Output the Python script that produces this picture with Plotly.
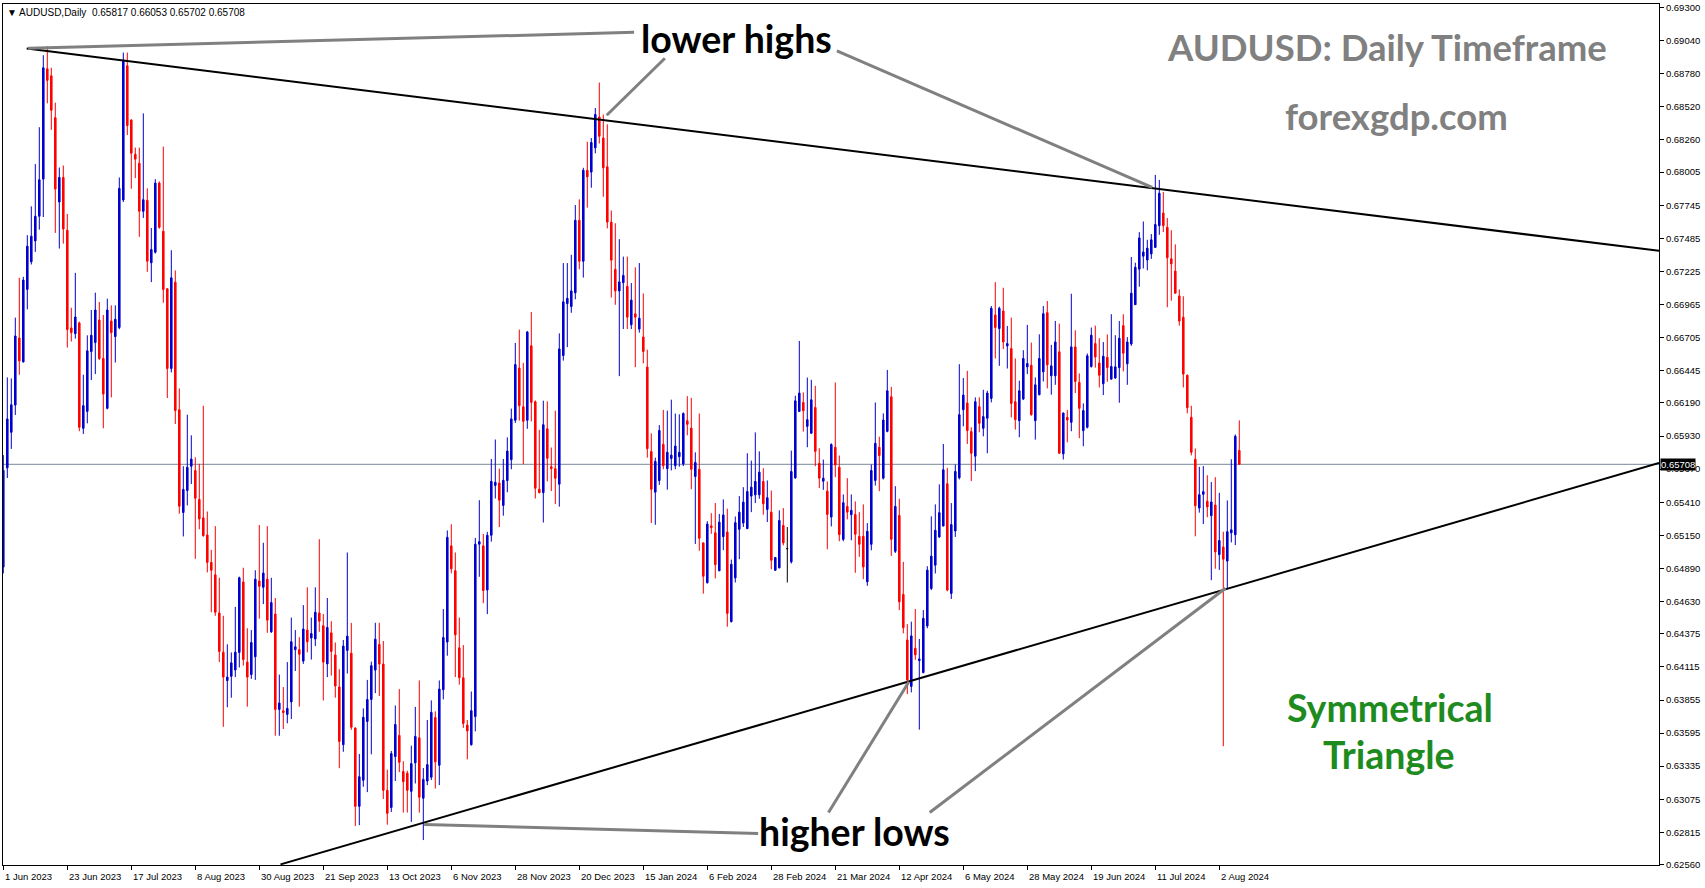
import plotly.graph_objects as go

# ---------------- data ----------------
opens = [
    0.6490, 0.6568, 0.65960, 0.66174, 0.66701, 0.66513, 0.67083, 0.67300, 0.67464, 0.67658,
    0.67950, 0.68817, 0.68762, 0.68433, 0.67770, 0.67963, 0.67548, 0.66780, 0.66735, 0.66819,
    0.65991, 0.66124, 0.66594, 0.66665, 0.66843, 0.66540, 0.66148, 0.66835, 0.66712, 0.66783,
    0.67786, 0.68841, 0.68415, 0.68146, 0.68075, 0.67697, 0.67783, 0.67292, 0.67375, 0.67919,
    0.67540, 0.67088, 0.66461, 0.67140, 0.66137, 0.65329, 0.65502, 0.65693, 0.65659, 0.65432,
    0.65287, 0.65152, 0.64937, 0.64839, 0.64539, 0.64231, 0.64008, 0.64041, 0.64091, 0.64229,
    0.64783, 0.64153, 0.64055, 0.64195, 0.64791, 0.64741, 0.64805, 0.64391, 0.64531, 0.63781,
    0.63770, 0.63742, 0.63840, 0.64251, 0.64251, 0.64161, 0.64405, 0.64343, 0.64335, 0.64539,
    0.64439, 0.64139, 0.64383, 0.64209, 0.63957, 0.63504, 0.64245, 0.64223, 0.63635, 0.63019,
    0.63224, 0.63686, 0.63859, 0.64090, 0.64292, 0.64138, 0.63145, 0.63010, 0.63410, 0.63577,
    0.63293, 0.63280, 0.63137, 0.63361, 0.63558, 0.63083, 0.63218, 0.63248, 0.63717, 0.63342,
    0.63936, 0.64311, 0.65067, 0.64872, 0.64265, 0.64030, 0.63658, 0.63504, 0.63725, 0.65080,
    0.65067, 0.64720, 0.65150, 0.65542, 0.65561, 0.65385, 0.65580, 0.65744, 0.66054, 0.66465,
    0.66160, 0.66054, 0.66640, 0.66200, 0.65512, 0.65485, 0.65987, 0.65689, 0.65674, 0.65552,
    0.66563, 0.66971, 0.66948, 0.67056, 0.67626, 0.67304, 0.68019, 0.68005, 0.68196, 0.68438,
    0.68273, 0.68047, 0.67612, 0.67241, 0.67071, 0.67136, 0.67107, 0.66805, 0.66891, 0.66771,
    0.66709, 0.66472, 0.65808, 0.65489, 0.65580, 0.65865, 0.65674, 0.65754, 0.65697, 0.65768,
    0.65711, 0.66050, 0.65993, 0.65612, 0.65669, 0.65090, 0.64777, 0.65224, 0.65170, 0.64871,
    0.65139, 0.65176, 0.64471, 0.64815, 0.65197, 0.65246, 0.65202, 0.65458, 0.65468, 0.65468,
    0.65573, 0.65353, 0.65332, 0.64875, 0.64894, 0.65228, 0.65045, 0.64941, 0.65601, 0.66124,
    0.66194, 0.66006, 0.65952, 0.66155, 0.65716, 0.65575, 0.65497, 0.65293, 0.65842, 0.65685,
    0.65118, 0.65377, 0.65312, 0.65314, 0.65142, 0.65142, 0.64784, 0.65079, 0.65581, 0.65842,
    0.65599, 0.65967, 0.66239, 0.65024, 0.65306, 0.64685, 0.64327, 0.63962, 0.64262, 0.64165,
    0.64071, 0.64437, 0.64732, 0.64915, 0.65137, 0.65223, 0.65555, 0.64693, 0.65184, 0.65602,
    0.66137, 0.66190, 0.65965, 0.65772, 0.66161, 0.65991, 0.66070, 0.66226, 0.66882, 0.66775,
    0.66913, 0.66639, 0.66618, 0.66200, 0.66051, 0.66221, 0.66474, 0.66487, 0.66051, 0.66255,
    0.66435, 0.66900, 0.66404, 0.66404, 0.66592, 0.65790, 0.66077, 0.66038, 0.66631, 0.66352,
    0.65973, 0.65999, 0.66477, 0.66657, 0.66504, 0.66342, 0.66549, 0.66378, 0.66387, 0.66468,
    0.66798, 0.66498, 0.66654, 0.66963, 0.67242, 0.67344, 0.67314, 0.67362, 0.67413, 0.67584,
    0.67683, 0.67572, 0.67323, 0.67227, 0.67032, 0.66864, 0.66408, 0.66078, 0.65748, 0.65364,
    0.65472, 0.65418, 0.65304, 0.65388, 0.64998, 0.65058, 0.64947, 0.65169, 0.65154, 0.65817,
]
highs = [
    0.6578, 0.66391, 0.66383, 0.66861, 0.67174, 0.67182, 0.67509, 0.67736, 0.68068, 0.68358,
    0.68924, 0.68995, 0.68825, 0.68551, 0.68041, 0.68057, 0.67676, 0.66939, 0.67213, 0.66830,
    0.66412, 0.66722, 0.66921, 0.67057, 0.66984, 0.66882, 0.67010, 0.66958, 0.66958, 0.67963,
    0.68945, 0.68945, 0.68420, 0.68198, 0.68198, 0.68467, 0.67877, 0.67566, 0.67950, 0.67932,
    0.68206, 0.67091, 0.67391, 0.67232, 0.66304, 0.65693, 0.66098, 0.65936, 0.65763, 0.65712,
    0.66168, 0.65337, 0.65035, 0.65222, 0.64816, 0.64517, 0.64293, 0.64229, 0.64587, 0.64825,
    0.64895, 0.64419, 0.64405, 0.64875, 0.65231, 0.65091, 0.65222, 0.64816, 0.64657, 0.64055,
    0.63957, 0.64153, 0.64503, 0.64405, 0.64349, 0.64601, 0.64741, 0.64503, 0.64741, 0.65119,
    0.64531, 0.64657, 0.64475, 0.64307, 0.64097, 0.64327, 0.65015, 0.64461, 0.63640, 0.63431,
    0.63789, 0.64013, 0.64157, 0.64462, 0.64462, 0.64319, 0.63307, 0.63455, 0.63812, 0.63941,
    0.63374, 0.63299, 0.63496, 0.63801, 0.64009, 0.63320, 0.63698, 0.63852, 0.63766, 0.64009,
    0.64570, 0.65188, 0.65237, 0.65015, 0.64503, 0.64287, 0.63698, 0.63922, 0.65129, 0.65426,
    0.65160, 0.65177, 0.65750, 0.65903, 0.65674, 0.65750, 0.65920, 0.66146, 0.66662, 0.66767,
    0.66505, 0.66756, 0.66905, 0.66210, 0.65979, 0.66208, 0.66203, 0.65840, 0.66130, 0.66737,
    0.67290, 0.67290, 0.67355, 0.67746, 0.67791, 0.68039, 0.68244, 0.68273, 0.68509, 0.68709,
    0.68458, 0.68381, 0.67703, 0.67603, 0.67478, 0.67341, 0.67341, 0.67133, 0.67256, 0.67290,
    0.67051, 0.66609, 0.65951, 0.65760, 0.66016, 0.66136, 0.66130, 0.66216, 0.66107, 0.66101,
    0.66116, 0.66244, 0.66230, 0.65802, 0.66107, 0.65095, 0.65261, 0.65324, 0.65404, 0.65318,
    0.65432, 0.65359, 0.64959, 0.65298, 0.65458, 0.65528, 0.65795, 0.65737, 0.65959, 0.65810,
    0.65677, 0.65581, 0.65502, 0.64980, 0.65346, 0.65364, 0.65215, 0.65816, 0.66247, 0.66678,
    0.66273, 0.66390, 0.66372, 0.66325, 0.65834, 0.65745, 0.65573, 0.65873, 0.66351, 0.65777,
    0.65471, 0.65599, 0.65471, 0.65416, 0.65332, 0.65393, 0.65246, 0.65706, 0.66194, 0.65925,
    0.66108, 0.66450, 0.66317, 0.65536, 0.65437, 0.64941, 0.64452, 0.64471, 0.64570, 0.64335,
    0.64562, 0.64907, 0.65299, 0.65393, 0.65550, 0.65868, 0.65680, 0.65403, 0.65706, 0.66495,
    0.66386, 0.66443, 0.65999, 0.66234, 0.66234, 0.66294, 0.66286, 0.66952, 0.67140, 0.66947,
    0.67096, 0.66796, 0.66861, 0.66540, 0.66365, 0.66605, 0.66804, 0.66665, 0.66391, 0.66730,
    0.66952, 0.66992, 0.66647, 0.66835, 0.66814, 0.66115, 0.66135, 0.67049, 0.66762, 0.66422,
    0.66187, 0.66579, 0.66783, 0.66798, 0.66699, 0.66669, 0.66729, 0.66888, 0.66723, 0.66834,
    0.66888, 0.66708, 0.67338, 0.67293, 0.67533, 0.67617, 0.67473, 0.67518, 0.67983, 0.67944,
    0.67848, 0.67644, 0.67548, 0.67437, 0.67083, 0.67029, 0.66414, 0.66168, 0.65832, 0.65688,
    0.65694, 0.65622, 0.65568, 0.65607, 0.65484, 0.65178, 0.65424, 0.65748, 0.65943, 0.66053,
]
lows = [
    0.6485, 0.6560, 0.65829, 0.66096, 0.66412, 0.66508, 0.66926, 0.67279, 0.67378, 0.67553,
    0.67652, 0.68546, 0.68337, 0.67527, 0.67404, 0.67443, 0.66626, 0.66673, 0.66696, 0.65968,
    0.65947, 0.66030, 0.66370, 0.66417, 0.66527, 0.65991, 0.66140, 0.66234, 0.66508, 0.66770,
    0.67770, 0.68297, 0.67874, 0.67958, 0.67496, 0.67645, 0.67221, 0.67140, 0.67365, 0.67560,
    0.66978, 0.66229, 0.66430, 0.66025, 0.65320, 0.65141, 0.65385, 0.65553, 0.64965, 0.65197,
    0.65139, 0.64858, 0.64545, 0.64517, 0.64153, 0.63644, 0.63798, 0.63873, 0.64035, 0.64111,
    0.64125, 0.63803, 0.64021, 0.64013, 0.64495, 0.64609, 0.64383, 0.64383, 0.63574, 0.63574,
    0.63627, 0.63672, 0.63705, 0.64083, 0.63803, 0.64139, 0.64229, 0.64173, 0.64279, 0.64391,
    0.63851, 0.64035, 0.64047, 0.63873, 0.63319, 0.63448, 0.64063, 0.63621, 0.62865, 0.62871,
    0.63173, 0.63131, 0.63428, 0.63909, 0.63887, 0.63077, 0.62875, 0.62975, 0.63218, 0.63288,
    0.62970, 0.62970, 0.62897, 0.63199, 0.62970, 0.62754, 0.63186, 0.63226, 0.63159, 0.63186,
    0.63860, 0.64203, 0.64851, 0.64036, 0.63976, 0.63636, 0.63388, 0.63496, 0.63609, 0.64824,
    0.64616, 0.64530, 0.65100, 0.65439, 0.65215, 0.65304, 0.65488, 0.65669, 0.66033, 0.66052,
    0.65709, 0.65987, 0.66046, 0.65439, 0.65480, 0.65250, 0.65574, 0.65498, 0.65395, 0.65375,
    0.66523, 0.66629, 0.66899, 0.67005, 0.67241, 0.67176, 0.67726, 0.67882, 0.68153, 0.68230,
    0.67811, 0.67563, 0.67019, 0.66962, 0.66401, 0.66771, 0.66771, 0.66771, 0.66472, 0.66743,
    0.66501, 0.65760, 0.65247, 0.65233, 0.65546, 0.65669, 0.65509, 0.65660, 0.65669, 0.65689,
    0.65694, 0.65936, 0.65512, 0.65082, 0.65028, 0.64691, 0.64771, 0.65162, 0.64811, 0.64868,
    0.65033, 0.64431, 0.64465, 0.64779, 0.64962, 0.65215, 0.65200, 0.65332, 0.65403, 0.65437,
    0.65312, 0.65254, 0.64883, 0.64870, 0.64890, 0.65071, 0.64779, 0.64928, 0.65595, 0.66120,
    0.65965, 0.65842, 0.65950, 0.65693, 0.65521, 0.65507, 0.65040, 0.65220, 0.65607, 0.65103,
    0.65103, 0.65275, 0.65111, 0.64855, 0.64980, 0.64805, 0.64753, 0.65032, 0.65541, 0.65497,
    0.65589, 0.65960, 0.64988, 0.65011, 0.64562, 0.64379, 0.63901, 0.63915, 0.64171, 0.63622,
    0.64065, 0.64419, 0.64719, 0.64850, 0.65130, 0.65220, 0.64710, 0.64649, 0.65137, 0.65589,
    0.66007, 0.65868, 0.65576, 0.65654, 0.65960, 0.65928, 0.65795, 0.66195, 0.66540, 0.66482,
    0.66613, 0.66461, 0.66077, 0.65981, 0.65921, 0.66213, 0.66417, 0.66090, 0.65902, 0.66250,
    0.66359, 0.66305, 0.66255, 0.66333, 0.65790, 0.65746, 0.65881, 0.65968, 0.66268, 0.65913,
    0.65850, 0.65990, 0.66468, 0.66468, 0.66312, 0.66252, 0.66357, 0.66372, 0.66380, 0.66192,
    0.66438, 0.66333, 0.66639, 0.66960, 0.67104, 0.67248, 0.67233, 0.67323, 0.67410, 0.67512,
    0.67533, 0.66943, 0.66994, 0.67050, 0.66798, 0.66312, 0.66108, 0.65778, 0.65142, 0.65328,
    0.65238, 0.65292, 0.64797, 0.64887, 0.64878, 0.63492, 0.64734, 0.65094, 0.65073, 0.65702,
]
closes = [
    0.6566, 0.66064, 0.66176, 0.66717, 0.66521, 0.67156, 0.67422, 0.67501, 0.67658, 0.67945,
    0.68825, 0.68726, 0.68491, 0.67872, 0.67963, 0.67558, 0.66767, 0.66743, 0.66866, 0.65999,
    0.66169, 0.66600, 0.66722, 0.66921, 0.66540, 0.66260, 0.66921, 0.66743, 0.66848, 0.67877,
    0.68885, 0.68371, 0.68154, 0.68107, 0.67697, 0.67788, 0.67305, 0.67396, 0.67919, 0.67571,
    0.67083, 0.66461, 0.67174, 0.66130, 0.65379, 0.65511, 0.65684, 0.65749, 0.65441, 0.65278,
    0.65147, 0.64937, 0.64875, 0.64545, 0.64237, 0.64035, 0.64035, 0.64147, 0.64231, 0.64816,
    0.64173, 0.64035, 0.64307, 0.64805, 0.64749, 0.64853, 0.64483, 0.64621, 0.63781, 0.63831,
    0.63756, 0.63789, 0.64313, 0.64273, 0.64215, 0.64413, 0.64313, 0.64377, 0.64545, 0.64475,
    0.64153, 0.64425, 0.64237, 0.63965, 0.63529, 0.64279, 0.64357, 0.63641, 0.63019, 0.63252,
    0.63719, 0.63859, 0.64125, 0.64333, 0.64138, 0.63145, 0.62964, 0.63434, 0.63663, 0.63366,
    0.63213, 0.63145, 0.63355, 0.63569, 0.63091, 0.63231, 0.63347, 0.63758, 0.63369, 0.63941,
    0.64346, 0.65134, 0.64886, 0.64368, 0.64030, 0.63671, 0.63612, 0.63771, 0.65080, 0.65100,
    0.64716, 0.65150, 0.65574, 0.65566, 0.65426, 0.65582, 0.65812, 0.66065, 0.66492, 0.66168,
    0.66046, 0.66748, 0.66195, 0.65520, 0.65485, 0.66019, 0.65755, 0.65674, 0.65598, 0.66615,
    0.66985, 0.67013, 0.67071, 0.67626, 0.67304, 0.68019, 0.67968, 0.68238, 0.68458, 0.68287,
    0.68039, 0.67612, 0.67313, 0.67071, 0.67142, 0.67193, 0.66865, 0.66999, 0.66865, 0.66857,
    0.66595, 0.65831, 0.65512, 0.65731, 0.65974, 0.65697, 0.65802, 0.65780, 0.65851, 0.65802,
    0.66107, 0.66022, 0.65669, 0.65723, 0.65127, 0.64828, 0.65238, 0.65210, 0.64919, 0.65253,
    0.65310, 0.64536, 0.64922, 0.65249, 0.65332, 0.65411, 0.65494, 0.65528, 0.65573, 0.65646,
    0.65398, 0.65445, 0.64954, 0.64975, 0.65267, 0.65090, 0.65045, 0.65651, 0.66207, 0.66268,
    0.66129, 0.66059, 0.66215, 0.65810, 0.65599, 0.65599, 0.65314, 0.65863, 0.65703, 0.65155,
    0.65406, 0.65332, 0.65346, 0.65158, 0.65079, 0.64901, 0.65181, 0.65659, 0.65873, 0.65777,
    0.66056, 0.66286, 0.65118, 0.65377, 0.64627, 0.64424, 0.64013, 0.64359, 0.64210, 0.64178,
    0.64497, 0.64876, 0.64986, 0.65189, 0.65328, 0.65665, 0.64719, 0.65234, 0.65652, 0.66098,
    0.66252, 0.65973, 0.65795, 0.66200, 0.66030, 0.66083, 0.66268, 0.66934, 0.66783, 0.66934,
    0.66670, 0.66657, 0.66187, 0.66059, 0.66286, 0.66540, 0.66500, 0.66098, 0.66333, 0.66540,
    0.66892, 0.66490, 0.66482, 0.66670, 0.65795, 0.66111, 0.66056, 0.66631, 0.66359, 0.66148,
    0.66130, 0.66561, 0.66723, 0.66552, 0.66408, 0.66558, 0.66468, 0.66477, 0.66474, 0.66699,
    0.66582, 0.66669, 0.67053, 0.67257, 0.67488, 0.67377, 0.67407, 0.67473, 0.67593, 0.67839,
    0.67584, 0.67332, 0.67284, 0.67053, 0.66834, 0.66417, 0.66153, 0.65802, 0.65382, 0.65469,
    0.65493, 0.65373, 0.65412, 0.65019, 0.65109, 0.64962, 0.65178, 0.65193, 0.65928, 0.65708,
]

date_tick_bars = [0, 16, 32, 48, 64, 80, 96, 112, 128, 144, 160, 176, 192, 208, 224, 240, 256, 272, 288, 304]
date_tick_labels = ["1 Jun 2023", "23 Jun 2023", "17 Jul 2023", "8 Aug 2023", "30 Aug 2023",
                    "21 Sep 2023", "13 Oct 2023", "6 Nov 2023", "28 Nov 2023", "20 Dec 2023",
                    "15 Jan 2024", "6 Feb 2024", "28 Feb 2024", "21 Mar 2024", "12 Apr 2024",
                    "6 May 2024", "28 May 2024", "19 Jun 2024", "11 Jul 2024", "2 Aug 2024"]
price_ticks = [0.69300, 0.69040, 0.68780, 0.68520, 0.68260, 0.68005, 0.67745, 0.67485, 0.67225,
               0.66965, 0.66705, 0.66445, 0.66190, 0.65930, 0.65670, 0.65410, 0.65150, 0.64890,
               0.64630, 0.64375, 0.64115, 0.63855, 0.63595, 0.63335, 0.63075, 0.62815, 0.62560]
price_tick_labels = ["%.5f" % v for v in price_ticks]

# drawn objects (bar index, price)
upper_trend = (5.85, 0.68976, 413.925, 0.67386)
lower_trend = (69.3, 0.62563, 413.925, 0.65718)
connectors = [
    (6.2, 0.68978, 157.7, 0.69104),
    (150.85, 0.68452, 165.4, 0.68900),
    (208.4, 0.68958, 287.2, 0.67885),
    (105.2, 0.62877, 188.7, 0.62806),
    (206.3, 0.62971, 226.4, 0.63998),
    (231.6, 0.62971, 305.55, 0.64734),
]
texts = [
    ("lower highs", 183.2, 0.69037, "black", 37.5, 2),
    ("higher lows", 212.9, 0.62822, "black", 37.5, 0),
    ("AUDUSD: Daily Timeframe", 345.9, 0.68966, "#808080", 36.5, 3),
    ("forexgdp.com", 348.4, 0.68425, "#808080", 36.5, 3),
    ("Symmetrical", 346.7, 0.63794, "#1E8B1E", 37.5, 0),
    ("Triangle", 346.4, 0.63425, "#1E8B1E", 37.5, 0),
]

BLUE = "#0000CD"
RED = "#FF0000"
AXIS_FONT = dict(family="Liberation Sans, Arial, sans-serif", size=9.5, color="black")

bars = list(range(len(closes)))
normal = [i for i in bars if opens[i] != closes[i]]
doji = [i for i in bars if opens[i] == closes[i]]

fig = go.Figure()
fig.add_trace(go.Candlestick(
    x=[bars[i] for i in normal],
    open=[opens[i] for i in normal], high=[highs[i] for i in normal],
    low=[lows[i] for i in normal], close=[closes[i] for i in normal],
    increasing=dict(line=dict(color=BLUE, width=1), fillcolor=BLUE),
    decreasing=dict(line=dict(color=RED, width=1), fillcolor=RED),
    whiskerwidth=0, hoverinfo="skip", showlegend=False,
))
fig.add_trace(go.Candlestick(
    x=[bars[i] for i in doji],
    open=[opens[i] for i in doji], high=[highs[i] for i in doji],
    low=[lows[i] for i in doji], close=[closes[i] for i in doji],
    increasing=dict(line=dict(color="black", width=1), fillcolor="black"),
    decreasing=dict(line=dict(color="black", width=1), fillcolor="black"),
    whiskerwidth=0, hoverinfo="skip", showlegend=False,
))

shapes = []
shapes.append(dict(type="line", xref="paper", x0=0, x1=1, yref="y", y0=closes[-1], y1=closes[-1],
                   line=dict(color="#778899", width=1), layer="below"))
for (x0, y0, x1, y1) in (upper_trend, lower_trend):
    shapes.append(dict(type="line", xref="x", yref="y", x0=x0, y0=y0, x1=x1, y1=y1,
                       line=dict(color="black", width=2), layer="above"))
for (x0, y0, x1, y1) in connectors:
    shapes.append(dict(type="line", xref="x", yref="y", x0=x0, y0=y0, x1=x1, y1=y1,
                       line=dict(color="#808080", width=3), layer="above"))

annotations = []
for (t, x, y, c, s, dy) in texts:
    annotations.append(dict(text="<b>%s</b>" % t, x=x, y=y, xref="x", yref="y", showarrow=False,
                            xanchor="center", yanchor="middle", yshift=dy,
                            font=dict(family="Lato, sans-serif", size=s, color=c)))
for b, lab in zip(date_tick_bars, date_tick_labels):
    annotations.append(dict(text=lab, x=b, y=-0.0139, xref="x", yref="paper", showarrow=False,
                            xanchor="left", yanchor="middle", xshift=0, font=AXIS_FONT))
header = "\u25BC AUDUSD,Daily\u00a0\u00a0%.5f %.5f %.5f %.5f" % (opens[-1], highs[-1], lows[-1], closes[-1])
annotations.append(dict(text=header, x=0.0012, y=0.9907, xref="paper", yref="paper", showarrow=False,
                        xanchor="left", yanchor="middle",
                        font=dict(family="Liberation Sans, Arial, sans-serif", size=10, color="black")))
annotations.append(dict(text="%.5f" % closes[-1], x=1, y=closes[-1], xref="paper", yref="y",
                        showarrow=False, xanchor="left", yanchor="middle", xshift=1,
                        bgcolor="black", borderpad=0,
                        font=dict(family="Liberation Sans, Arial, sans-serif", size=9.5, color="white")))

fig.update_layout(
    width=1705, height=888,
    margin=dict(l=3, r=46, t=2, b=23),
    paper_bgcolor="white", plot_bgcolor="white",
    boxgap=0.45,
    shapes=shapes, annotations=annotations,
    showlegend=False,
    xaxis=dict(range=[-0.075, 413.925], showgrid=False, zeroline=False,
               showline=True, mirror=True, linecolor="black", linewidth=1,
               ticks="outside", ticklen=4, tickcolor="black", tickwidth=1,
               tickmode="array", tickvals=date_tick_bars, showticklabels=False,
               rangeslider=dict(visible=False), fixedrange=True),
    yaxis=dict(range=[0.62558, 0.693266], side="right", showgrid=False, zeroline=False,
               showline=True, mirror=True, linecolor="black", linewidth=1,
               ticks="outside", ticklen=4, tickcolor="black", tickwidth=1,
               tickmode="array", tickvals=price_ticks, ticktext=price_tick_labels,
               ticklabeloverflow="allow",
               tickfont=AXIS_FONT, fixedrange=True),
)

fig.write_html(
    "out.html",
    config={"displayModeBar": False},
    post_script="document.body.style.margin='0';document.body.style.padding='0';"
                "document.body.style.overflow='hidden';",
)
